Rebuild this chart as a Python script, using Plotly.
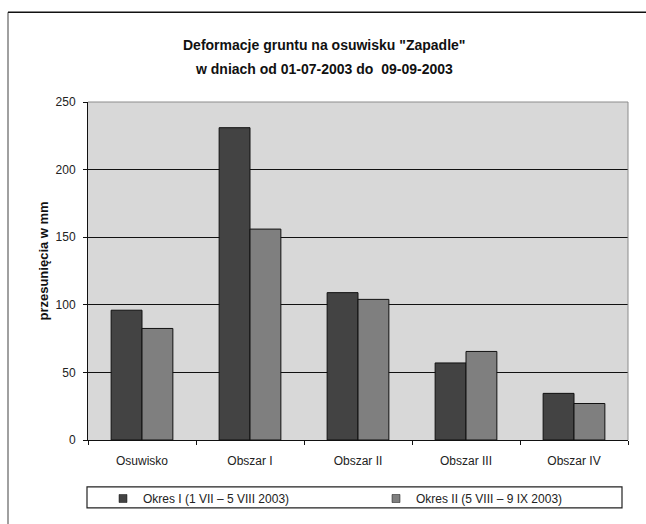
import plotly.graph_objects as go

# Dane: przesunięcia gruntu [mm] w dwóch okresach pomiarowych
categories = ["Osuwisko", "Obszar I", "Obszar II", "Obszar III", "Obszar IV"]
okres_1 = [96, 231, 109, 57, 34.5]
okres_2 = [82.5, 156, 104, 65.5, 27]
series_names = ["Okres I (1 VII \u2013 5 VIII 2003)", "Okres II (5 VIII \u2013 9 IX 2003)"]
y_ticks = [0, 50, 100, 150, 200, 250]

W, H = 646, 524
L, R, T, B = 88, 628, 102, 441  # plot area in pixels


def px_x(x):
    return (x - L) / (R - L)


def px_y(y):
    return (B - y) / (B - T)


FONT = "Arial, 'Liberation Sans', sans-serif"
DARK = "#434343"
LIGHT = "#7f7f7f"
TXT = "#222222"

fig = go.Figure()
for name, vals, col, leg in [(series_names[0], okres_1, DARK, "legend"),
                             (series_names[1], okres_2, LIGHT, "legend2")]:
    fig.add_trace(go.Bar(
        x=categories, y=vals, name=name,
        marker=dict(color=col, line=dict(color="#111111", width=1)),
        showlegend=False,
    ))
    # legend entry with a small square swatch
    fig.add_trace(go.Scatter(
        x=[None], y=[None], mode="markers", name=name, legend=leg,
        marker=dict(symbol="square", size=8, color=col, line=dict(color="#111111", width=0.5)),
    ))

legend_common = dict(
    orientation="h",
    xanchor="left",
    y=px_y(498.5), yanchor="middle",
    bgcolor="rgba(0,0,0,0)",
    borderwidth=0,
    itemwidth=30,
    font=dict(family=FONT, size=12, color=TXT),
)

fig.update_layout(
    width=W, height=H,
    margin=dict(l=L, r=W - R, t=T, b=H - B),
    paper_bgcolor="white",
    plot_bgcolor="#d8d8d8",
    font=dict(family=FONT, size=12, color=TXT),
    barmode="group",
    bargap=1.5 / 3.5,
    bargroupgap=0,
    showlegend=True,
    legend=dict(x=px_x(103), **legend_common),
    legend2=dict(x=px_x(376), **legend_common),
    xaxis=dict(
        type="category",
        showline=True, linecolor="#111111", linewidth=1,
        ticks="outside", ticklen=4, tickcolor="#111111",
        tickson="boundaries",
        showgrid=False,
        tickfont=dict(family=FONT, size=12, color=TXT),
        ticklabelstandoff=10,
    ),
    yaxis=dict(
        range=[0, 250],
        tickvals=y_ticks,
        showline=True, linecolor="#111111", linewidth=1,
        ticks="outside", ticklen=4, tickcolor="#111111",
        showgrid=True, gridcolor="#111111", gridwidth=1,
        zeroline=False,
        tickfont=dict(family=FONT, size=12, color=TXT),
        ticklabelstandoff=5,
    ),
)

# Tytuł wykresu (dwie linie)
title_lines = ["Deformacje gruntu na osuwisku \"Zapadle\"", "w dniach od 01-07-2003 do  09-09-2003"]
for line, ypx in zip(title_lines, [45, 69]):
    fig.add_annotation(
        text=f"<b>{line}</b>", xref="paper", yref="paper",
        x=px_x(324), y=px_y(ypx), xanchor="center", yanchor="middle",
        showarrow=False, font=dict(family=FONT, size=14, color="#111111"),
    )

# Opis osi Y
fig.add_annotation(
    text="<b>przesunięcia w mm</b>", xref="paper", yref="paper",
    x=px_x(44), y=px_y(262), xanchor="center", yanchor="middle",
    textangle=-90, showarrow=False,
    font=dict(family=FONT, size=13, color="#111111"),
)

# Ramka obszaru wykresu (góra i prawa krawędź)
fig.add_shape(type="line", xref="paper", yref="paper", x0=0, x1=1, y0=1, y1=1,
              line=dict(color="#8c8c8c", width=1))
fig.add_shape(type="line", xref="paper", yref="paper", x0=1, x1=1, y0=0, y1=1,
              line=dict(color="#8c8c8c", width=1))

# Ramka legendy
fig.add_shape(type="rect", xref="paper", yref="paper",
              x0=px_x(87), x1=px_x(622), y0=px_y(509), y1=px_y(488),
              line=dict(color="#222222", width=1.2), fillcolor="rgba(0,0,0,0)")

# Obramowanie całego wykresu (lewa i górna krawędź)
fig.add_shape(type="line", xref="paper", yref="paper",
              x0=px_x(8), x1=px_x(8), y0=px_y(12), y1=px_y(530),
              line=dict(color="#808080", width=1.5))
fig.add_shape(type="line", xref="paper", yref="paper",
              x0=px_x(8), x1=px_x(650), y0=px_y(12), y1=px_y(12),
              line=dict(color="#111111", width=1.5))

fig.write_html("out.html")
